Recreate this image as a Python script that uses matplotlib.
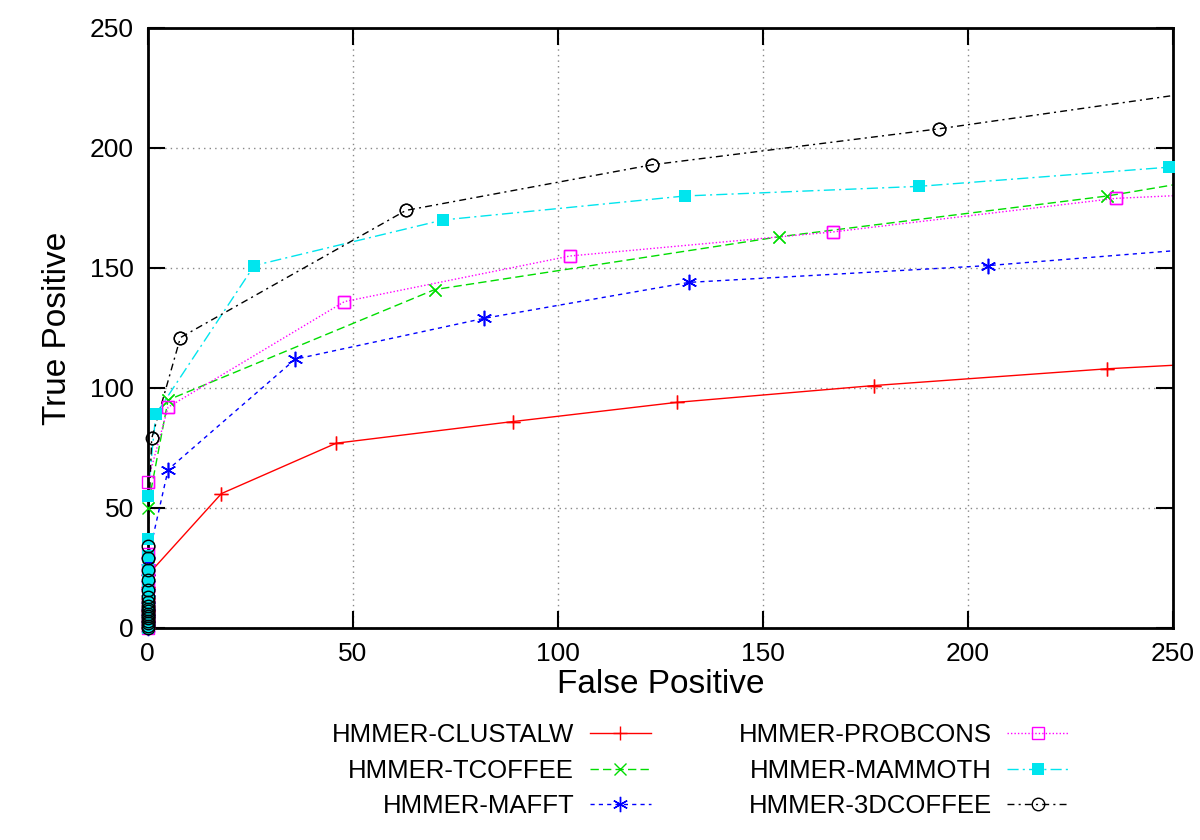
import matplotlib.pyplot as plt
import numpy as np

plt.rcParams['font.family'] = ['Liberation Sans', 'DejaVu Sans']

# data (last point of each series lies beyond x=250, clipped)
clustalw_x = [0, 0, 0, 0, 0, 0, 18, 46, 89, 129, 177, 234, 300]
clustalw_y = [0, 3, 7, 12, 17, 22, 56, 77, 86, 94, 101, 108, 114]
tcoffee_x = [0, 0, 0, 0, 0, 0, 0, 5, 70, 154, 234, 300]
tcoffee_y = [0, 4, 9, 15, 22, 30, 50, 95, 141, 163, 180, 199]
mafft_x = [0, 0, 0, 0, 0, 0, 5, 36, 82, 132, 205, 300]
mafft_y = [0, 4, 9, 15, 21, 28, 66, 112, 129, 144, 151, 164]
probcons_x = [0, 0, 0, 0, 0, 0, 0, 5, 48, 103, 167, 236, 300]
probcons_y = [0, 5, 10, 17, 24, 31, 61, 92, 136, 155, 165, 179, 184]
mammoth_x = [0, 0, 0, 0, 0, 0, 0, 0, 0, 0, 0, 0, 0, 2, 26, 72, 131, 188, 249, 300]
mammoth_y = [0, 2, 4, 6, 8, 10, 12, 15, 20, 24, 30, 37, 55, 89, 151, 170, 180, 184, 192, 198]
coffee3d_x = [0, 0, 0, 0, 0, 0, 0, 0, 0, 0, 0, 0, 0, 0, 0, 0, 0, 1, 8, 63, 123, 193, 300]
coffee3d_y = [0, 1, 2, 3, 4, 5, 6, 7, 8, 9, 11, 13, 16, 20, 24, 29, 34, 79, 121, 174, 193, 208, 234]

series = [
    (clustalw_x, clustalw_y, 'HMMER-CLUSTALW',
     dict(color='#ff0000', ls='-', marker='+', ms=10, mew=1)),
    (tcoffee_x, tcoffee_y, 'HMMER-TCOFFEE',
     dict(color='#00dd00', ls=(0, (6, 3)), marker='x', ms=8, mew=1)),
    (mafft_x, mafft_y, 'HMMER-MAFFT',
     dict(color='#0000ff', ls=(0, (3, 3)), marker=(6, 2, 0), ms=11, mew=1)),
    (probcons_x, probcons_y, 'HMMER-PROBCONS',
     dict(color='#ff00ff', ls=(0, (1, 1.5)), marker='s', ms=9, mew=1, mfc='none')),
    (mammoth_x, mammoth_y, 'HMMER-MAMMOTH',
     dict(color='#00e5ee', ls=(0, (8, 3, 1.5, 3)), marker='s', ms=8, mew=0)),
    (coffee3d_x, coffee3d_y, 'HMMER-3DCOFFEE',
     dict(color='black', ls=(0, (5, 3, 1.5, 3)), marker='o', ms=9, mew=1, mfc='none')),
]

fig, ax = plt.subplots(figsize=(12, 8.4), dpi=100)
fig.subplots_adjust(left=0.123, right=0.9775, top=0.9667, bottom=0.2524)

for xs, ys, name, st in series:
    ax.plot(xs, ys, lw=1, label=name, **st)
    # markers are drawn over the frame like gnuplot does
    xs_in = [x for x in xs if x <= 250]
    ys_in = [y for x, y in zip(xs, ys) if x <= 250]
    mst = dict(st)
    mst['ls'] = 'none'
    ax.plot(xs_in, ys_in, clip_on=False, zorder=3, **mst)

ax.set_xlim(0, 250)
ax.set_ylim(0, 250)
ax.set_xticks(np.arange(0, 251, 50))
ax.set_yticks(np.arange(0, 251, 50))
ax.grid(True, color='#888888', ls=(0, (1, 3)), lw=1)
ax.tick_params(direction='in', length=12, width=1.5, top=True, right=True,
               labelsize=19, pad=10)
for s in ax.spines.values():
    s.set_linewidth(2)

ax.set_xlabel('False Positive', fontsize=24, labelpad=2)
ax.set_ylabel('True Positive', fontsize=24, labelpad=12)

ax.legend(loc='upper center', bbox_to_anchor=(0.539, -0.12), ncol=2, frameon=False,
          markerfirst=False, fontsize=18.5, handlelength=2.4, columnspacing=3.4,
          labelspacing=0.45, handletextpad=0.6)

fig.savefig('out.png')
